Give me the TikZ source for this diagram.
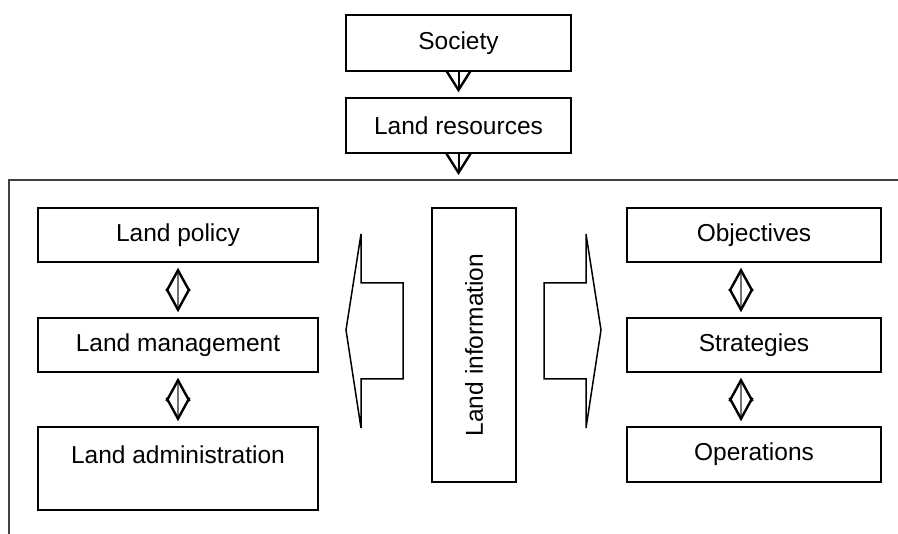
\documentclass[tikz,border=0pt]{standalone}
\usepackage{fontspec}
\setmainfont{Liberation Sans}
\usetikzlibrary{arrows.meta}
\begin{document}
\begin{tikzpicture}[x=1pt, y=-1pt, line width=1.5pt,
  box/.style={draw, rectangle, inner sep=0pt, font=\fontsize{24.5}{29}\selectfont},
  lbl/.style={inner sep=0pt, font=\fontsize{24.5}{29}\selectfont},
  downarrow/.style={line width=2pt,
    -{Straight Barb[length=19pt,width=24pt,line width=2.4pt]}, shorten >=5pt},
  twoway/.style={draw=black!55, line width=2pt,
    {Straight Barb[length=21pt,width=23pt,line width=2.4pt,color=black]}-{Straight Barb[length=21pt,width=23pt,line width=2.4pt,color=black]},
    shorten <=5pt, shorten >=5pt},
  blockarrow/.style={draw, line width=1.5pt, line join=miter},
  frame/.style={draw=black!75, line width=2pt}]
\useasboundingbox (0,0) rectangle (898,534);

% top chain
\node[box, minimum width=225pt, minimum height=56pt] (soc) at (458.5,43) {Society};
\node[box, minimum width=225pt, minimum height=55pt] (res) at (458.5,125.5) {Land resources};
\coordinate (fin) at (458.5,180);
\draw[downarrow] (soc.south) -- (res.north);
\draw[downarrow] (res.south) -- (fin);

% enclosing frame (open to the right and bottom)
\coordinate (ftl) at (9,180);
\draw[frame] (9,534) -- (ftl) -- (898,180);

% left column
\node[box, minimum width=280pt, minimum height=54pt] (pol) at (178,235) {Land policy};
\node[box, minimum width=280pt, minimum height=54pt] (mgm) at (178,345) {Land management};
\node[box, minimum width=280pt, minimum height=83pt] (adm) at (178,468.5) {};
\node[lbl] (admtxt) at (178,455) {Land administration};
\draw[twoway] (pol.south) -- (mgm.north);
\draw[twoway] (mgm.south) -- (adm.north);

% central column
\node[box, minimum width=84pt, minimum height=274pt] (info) at (474,345) {};
\node[lbl, rotate=90] (infotxt) at (info.center) {Land information};

% block arrows out of the central column
\draw[blockarrow] (346,330) -- (361,234) -- (361,283) -- (403,283) -- (403,379)
  -- (361,379) -- (361,428) -- cycle;
\draw[blockarrow] (601,330) -- (586,234) -- (586,283) -- (544,283) -- (544,379)
  -- (586,379) -- (586,428) -- cycle;

% right column
\node[box, minimum width=254pt, minimum height=54pt] (obj) at (754,235) {Objectives};
\node[box, minimum width=254pt, minimum height=54pt] (str) at (754,345) {Strategies};
\node[box, minimum width=254pt, minimum height=55pt] (ops) at (754,454.5) {Operations};
\draw[twoway] ([xshift=-13pt]obj.south) -- ([xshift=-13pt]str.north);
\draw[twoway] ([xshift=-13pt]str.south) -- ([xshift=-13pt]ops.north);
\end{tikzpicture}
\end{document}
